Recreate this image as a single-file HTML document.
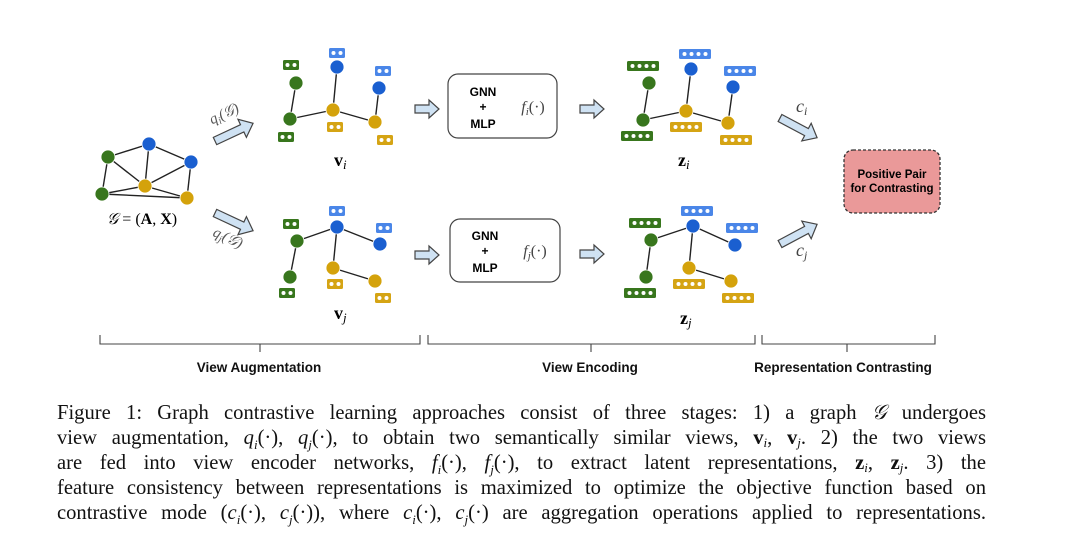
<!DOCTYPE html>
<html><head><meta charset="utf-8"><style>
html,body{margin:0;padding:0;background:#fff;}
body{width:1080px;height:544px;position:relative;overflow:hidden;}
svg{position:absolute;left:0;top:0;}
.cap{position:absolute;left:57px;width:929px;font-family:"Liberation Serif",serif;font-size:20.6px;line-height:24px;color:#111;text-align:justify;text-align-last:justify;white-space:nowrap;}
i{font-style:italic;}
</style></head><body>
<svg width="1080" height="544" viewBox="0 0 1080 544" font-family="Liberation Sans, sans-serif">
<defs>
<g id="g2"><rect x="-8" y="-5" width="16" height="10" rx="1.5" fill="#38761d"/><circle cx="-3.5" cy="0" r="2" fill="#fff"/><circle cx="3.5" cy="0" r="2" fill="#fff"/></g>
<g id="b2"><rect x="-8" y="-5" width="16" height="10" rx="1.5" fill="#4a86e8"/><circle cx="-3.5" cy="0" r="2" fill="#fff"/><circle cx="3.5" cy="0" r="2" fill="#fff"/></g>
<g id="y2"><rect x="-8" y="-5" width="16" height="10" rx="1.5" fill="#d5a414"/><circle cx="-3.5" cy="0" r="2" fill="#fff"/><circle cx="3.5" cy="0" r="2" fill="#fff"/></g>
<g id="g4"><rect x="-16" y="-5" width="32" height="10" rx="1.5" fill="#38761d"/><circle cx="-10.5" cy="0" r="2" fill="#fff"/><circle cx="-3.5" cy="0" r="2" fill="#fff"/><circle cx="3.5" cy="0" r="2" fill="#fff"/><circle cx="10.5" cy="0" r="2" fill="#fff"/></g>
<g id="b4"><rect x="-16" y="-5" width="32" height="10" rx="1.5" fill="#4a86e8"/><circle cx="-10.5" cy="0" r="2" fill="#fff"/><circle cx="-3.5" cy="0" r="2" fill="#fff"/><circle cx="3.5" cy="0" r="2" fill="#fff"/><circle cx="10.5" cy="0" r="2" fill="#fff"/></g>
<g id="y4"><rect x="-16" y="-5" width="32" height="10" rx="1.5" fill="#d5a414"/><circle cx="-10.5" cy="0" r="2" fill="#fff"/><circle cx="-3.5" cy="0" r="2" fill="#fff"/><circle cx="3.5" cy="0" r="2" fill="#fff"/><circle cx="10.5" cy="0" r="2" fill="#fff"/></g>
<path id="arr" d="M0,-4 L30,-4 L30,-10 L42,0 L30,10 L30,4 L0,4 Z" fill="#cfe2f3" stroke="#444" stroke-width="1.2"/>
<path id="sarr" d="M0,-4 L14,-4 L14,-9 L24,0 L14,9 L14,4 L0,4 Z" fill="#cfe2f3" stroke="#444" stroke-width="1.2"/>
</defs>

<g stroke="#222" stroke-width="1.4">
<line x1="108" y1="157" x2="149" y2="144"/><line x1="149" y1="144" x2="191" y2="162"/>
<line x1="108" y1="157" x2="145" y2="186"/><line x1="108" y1="157" x2="102" y2="194"/>
<line x1="149" y1="144" x2="145" y2="186"/><line x1="191" y1="162" x2="145" y2="186"/>
<line x1="191" y1="162" x2="187" y2="198"/><line x1="102" y1="194" x2="145" y2="186"/>
<line x1="145" y1="186" x2="187" y2="198"/><line x1="102" y1="194" x2="187" y2="198"/>
</g>
<g stroke="#fff" stroke-width="0.8">
<circle cx="108" cy="157" r="7" fill="#38761d"/><circle cx="102" cy="194" r="7" fill="#38761d"/>
<circle cx="149" cy="144" r="7" fill="#1a5fd0"/><circle cx="191" cy="162" r="7" fill="#1a5fd0"/>
<circle cx="145" cy="186" r="7" fill="#d4a20b"/><circle cx="187" cy="198" r="7" fill="#d4a20b"/>
</g>
<text x="142" y="224" font-family="Liberation Serif, serif" font-size="16" text-anchor="middle"><tspan font-style="italic">𝒢</tspan> = (<tspan font-weight="bold">A</tspan>, <tspan font-weight="bold">X</tspan>)</text>

<use href="#arr" transform="translate(215,141) rotate(-25)"/>
<use href="#arr" transform="translate(215,213) rotate(25)"/>
<text x="226" y="118" font-family="Liberation Serif, serif" font-style="italic" font-size="15" fill="#555" transform="rotate(-25 226 118)" text-anchor="middle">q<tspan font-size="10" dy="3">i</tspan><tspan dy="-3">(𝒢)</tspan></text>
<text x="226" y="242" font-family="Liberation Serif, serif" font-style="italic" font-size="15" fill="#555" transform="rotate(25 226 242)" text-anchor="middle">q<tspan font-size="10" dy="3">j</tspan><tspan dy="-3">(𝒢)</tspan></text>

<g stroke="#222" stroke-width="1.4">
<line x1="296" y1="83" x2="290" y2="119"/><line x1="290" y1="119" x2="333" y2="110"/>
<line x1="333" y1="110" x2="337" y2="67"/><line x1="333" y1="110" x2="375" y2="122"/>
<line x1="375" y1="122" x2="379" y2="88"/>
</g>
<g stroke="#fff" stroke-width="0.8">
<circle cx="296" cy="83" r="7" fill="#38761d"/><circle cx="290" cy="119" r="7" fill="#38761d"/>
<circle cx="337" cy="67" r="7" fill="#1a5fd0"/><circle cx="379" cy="88" r="7" fill="#1a5fd0"/>
<circle cx="333" cy="110" r="7" fill="#d4a20b"/><circle cx="375" cy="122" r="7" fill="#d4a20b"/>
</g>
<use href="#g2" x="291" y="65"/><use href="#g2" x="286" y="137"/><use href="#y2" x="335" y="127"/>
<use href="#b2" x="337" y="53"/><use href="#b2" x="383" y="71"/><use href="#y2" x="385" y="140"/>
<text x="334" y="166" font-family="Liberation Serif, serif" font-size="18" font-weight="bold">v<tspan font-weight="normal" font-style="italic" font-size="13" dy="3">i</tspan></text>

<g stroke="#222" stroke-width="1.4">
<line x1="297" y1="241" x2="337" y2="227"/><line x1="337" y1="227" x2="380" y2="244"/>
<line x1="337" y1="227" x2="333" y2="268"/><line x1="333" y1="268" x2="375" y2="281"/>
<line x1="297" y1="241" x2="290" y2="277"/>
</g>
<g stroke="#fff" stroke-width="0.8">
<circle cx="297" cy="241" r="7" fill="#38761d"/><circle cx="290" cy="277" r="7" fill="#38761d"/>
<circle cx="337" cy="227" r="7" fill="#1a5fd0"/><circle cx="380" cy="244" r="7" fill="#1a5fd0"/>
<circle cx="333" cy="268" r="7" fill="#d4a20b"/><circle cx="375" cy="281" r="7" fill="#d4a20b"/>
</g>
<use href="#g2" x="291" y="224"/><use href="#g2" x="287" y="293"/><use href="#b2" x="337" y="211"/>
<use href="#b2" x="384" y="228"/><use href="#y2" x="335" y="284"/><use href="#y2" x="383" y="298"/>
<text x="334" y="319" font-family="Liberation Serif, serif" font-size="18" font-weight="bold">v<tspan font-weight="normal" font-style="italic" font-size="13" dy="3">j</tspan></text>

<use href="#sarr" transform="translate(415,109)"/>
<use href="#sarr" transform="translate(415,255)"/>
<use href="#sarr" transform="translate(580,109)"/>
<use href="#sarr" transform="translate(580,254)"/>

<rect x="448" y="74" width="109" height="64" rx="10" fill="#fff" stroke="#444" stroke-width="1.2"/>
<text x="483" y="96" font-size="12" font-weight="bold" text-anchor="middle">GNN</text>
<text x="483" y="111" font-size="12" font-weight="bold" text-anchor="middle">+</text>
<text x="483" y="128" font-size="12" font-weight="bold" text-anchor="middle">MLP</text>
<text x="533" y="112" font-family="Liberation Serif, serif" font-size="16" fill="#444" text-anchor="middle"><tspan font-style="italic">f</tspan><tspan font-style="italic" font-size="11" dy="3">i</tspan><tspan dy="-3">(·)</tspan></text>
<rect x="450" y="219" width="110" height="63" rx="10" fill="#fff" stroke="#444" stroke-width="1.2"/>
<text x="485" y="240" font-size="12" font-weight="bold" text-anchor="middle">GNN</text>
<text x="485" y="255" font-size="12" font-weight="bold" text-anchor="middle">+</text>
<text x="485" y="272" font-size="12" font-weight="bold" text-anchor="middle">MLP</text>
<text x="535" y="256" font-family="Liberation Serif, serif" font-size="16" fill="#444" text-anchor="middle"><tspan font-style="italic">f</tspan><tspan font-style="italic" font-size="11" dy="3">j</tspan><tspan dy="-3">(·)</tspan></text>

<g stroke="#222" stroke-width="1.4">
<line x1="649" y1="83" x2="643" y2="120"/><line x1="643" y1="120" x2="686" y2="111"/>
<line x1="686" y1="111" x2="691" y2="69"/><line x1="686" y1="111" x2="728" y2="123"/>
<line x1="728" y1="123" x2="733" y2="87"/>
</g>
<g stroke="#fff" stroke-width="0.8">
<circle cx="649" cy="83" r="7" fill="#38761d"/><circle cx="643" cy="120" r="7" fill="#38761d"/>
<circle cx="691" cy="69" r="7" fill="#1a5fd0"/><circle cx="733" cy="87" r="7" fill="#1a5fd0"/>
<circle cx="686" cy="111" r="7" fill="#d4a20b"/><circle cx="728" cy="123" r="7" fill="#d4a20b"/>
</g>
<use href="#g4" x="643" y="66"/><use href="#g4" x="637" y="136"/><use href="#y4" x="686" y="127"/>
<use href="#b4" x="695" y="54"/><use href="#b4" x="740" y="71"/><use href="#y4" x="736" y="140"/>
<text x="678" y="166" font-family="Liberation Serif, serif" font-size="18" font-weight="bold">z<tspan font-weight="normal" font-style="italic" font-size="13" dy="3">i</tspan></text>

<g stroke="#222" stroke-width="1.4">
<line x1="651" y1="240" x2="693" y2="226"/><line x1="693" y1="226" x2="735" y2="245"/>
<line x1="693" y1="226" x2="689" y2="268"/><line x1="689" y1="268" x2="731" y2="281"/>
<line x1="651" y1="240" x2="646" y2="277"/>
</g>
<g stroke="#fff" stroke-width="0.8">
<circle cx="651" cy="240" r="7" fill="#38761d"/><circle cx="646" cy="277" r="7" fill="#38761d"/>
<circle cx="693" cy="226" r="7" fill="#1a5fd0"/><circle cx="735" cy="245" r="7" fill="#1a5fd0"/>
<circle cx="689" cy="268" r="7" fill="#d4a20b"/><circle cx="731" cy="281" r="7" fill="#d4a20b"/>
</g>
<use href="#g4" x="645" y="223"/><use href="#g4" x="640" y="293"/><use href="#b4" x="697" y="211"/>
<use href="#b4" x="742" y="228"/><use href="#y4" x="689" y="284"/><use href="#y4" x="738" y="298"/>
<text x="680" y="324" font-family="Liberation Serif, serif" font-size="18" font-weight="bold">z<tspan font-weight="normal" font-style="italic" font-size="13" dy="3">j</tspan></text>

<use href="#arr" transform="translate(780,118) rotate(28)"/>
<use href="#arr" transform="translate(780,244) rotate(-28)"/>
<text x="796" y="112" font-family="Liberation Serif, serif" font-style="italic" font-size="18" fill="#444">c<tspan font-size="12" dy="3">i</tspan></text>
<text x="796" y="256" font-family="Liberation Serif, serif" font-style="italic" font-size="18" fill="#444">c<tspan font-size="12" dy="3">j</tspan></text>

<rect x="844" y="150" width="96" height="63" rx="9" fill="#ea9999" stroke="#333" stroke-width="1.3" stroke-dasharray="3,2"/>
<text x="892" y="178" font-size="11.5" font-weight="bold" text-anchor="middle">Positive Pair</text>
<text x="892" y="192" font-size="11.5" font-weight="bold" text-anchor="middle">for Contrasting</text>

<g fill="none" stroke="#444" stroke-width="1.1">
<path d="M100,335 L100,344 L420,344 L420,335 M260,344 L260,352"/>
<path d="M428,335 L428,344 L755,344 L755,335 M591,344 L591,352"/>
<path d="M762,335 L762,344 L935,344 L935,335 M847,344 L847,352"/>
</g>
<g font-size="13.5" font-weight="bold" text-anchor="middle" fill="#111">
<text x="259" y="372">View Augmentation</text>
<text x="590" y="372">View Encoding</text>
<text x="843" y="372">Representation Contrasting</text>
</g>
</svg>
<div class="cap" style="top:401px">Figure 1: Graph contrastive learning approaches consist of three stages: 1) a graph <i>𝒢</i> undergoes</div>
<div class="cap" style="top:426px">view augmentation, <i>q<sub style="font-size:13px">i</sub></i>(·), <i>q<sub style="font-size:13px">j</sub></i>(·), to obtain two semantically similar views, <b>v</b><i style="font-size:13px;vertical-align:-3px">i</i>, <b>v</b><i style="font-size:13px;vertical-align:-3px">j</i>. 2) the two views</div>
<div class="cap" style="top:451px">are fed into view encoder networks, <i>f<sub style="font-size:13px">i</sub></i>(·), <i>f<sub style="font-size:13px">j</sub></i>(·), to extract latent representations, <b>z</b><i style="font-size:13px;vertical-align:-3px">i</i>, <b>z</b><i style="font-size:13px;vertical-align:-3px">j</i>. 3) the</div>
<div class="cap" style="top:476px">feature consistency between representations is maximized to optimize the objective function based on</div>
<div class="cap" style="top:501px">contrastive mode (<i>c<sub style="font-size:13px">i</sub></i>(·), <i>c<sub style="font-size:13px">j</sub></i>(·)), where <i>c<sub style="font-size:13px">i</sub></i>(·), <i>c<sub style="font-size:13px">j</sub></i>(·) are aggregation operations applied to representations.</div>
</body></html>
